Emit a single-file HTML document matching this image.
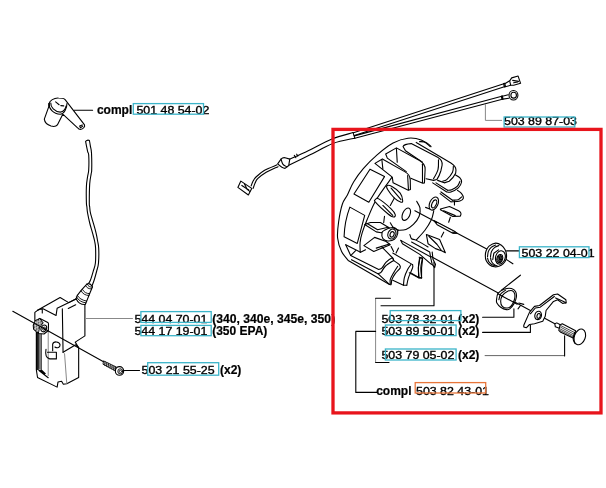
<!DOCTYPE html>
<html><head><meta charset="utf-8">
<style>
html,body{margin:0;padding:0;background:#fff;}
body{width:606px;height:488px;overflow:hidden;position:relative;font-family:"Liberation Sans",sans-serif;}
svg{position:absolute;left:0;top:0;will-change:transform;}
text{font-family:"Liberation Sans",sans-serif;font-size:11.7px;fill:#000;stroke:#000;stroke-width:0.35;}
.b{font-weight:bold;font-size:12px;stroke-width:0.2;}

.art *{vector-effect:non-scaling-stroke;}
.k{fill:none;stroke:#000;stroke-width:1.1;stroke-linecap:round;stroke-linejoin:round;}
.kf{fill:#fff;stroke:#000;stroke-width:1.1;stroke-linecap:round;stroke-linejoin:round;}
.f{fill:#fff;stroke:none;}
.kd{fill:#333;stroke:#111;stroke-width:1;}
.g{fill:none;stroke:#888;stroke-width:1;}
.cy{fill:none;stroke:#3bb4c9;stroke-width:1.3;}
.or{fill:none;stroke:#e8763a;stroke-width:1.3;}
</style></head><body>
<svg width="606" height="488" viewBox="0 0 606 488">
<!-- ART-START -->
<!-- spark plug boot: origin (36,92) scale 70/606 -->
<g transform="translate(36,92) scale(0.115512)" class="art">
<path d="M113,100 C118,75 155,50 195,52 C225,52 245,58 252,66 L420,285 C426,300 408,322 385,325 C375,325 365,318 360,310 L232,192 L185,285 C175,298 150,300 130,295 C100,285 75,260 72,235 L113,120 Z" class="kf"/>
<path d="M113,100 C108,140 150,190 210,192 C245,190 268,140 268,100" class="k"/>
<path d="M128,95 C125,130 160,172 210,174 C240,172 258,140 260,122" class="k"/>
<path d="M113,100 L113,122" class="k"/>
<path d="M170,85 L200,110 M215,118 L240,120" class="k"/>
<path d="M378,295 L400,285 M385,310 L405,295 M378,295 L385,310" class="k"/>
<path d="M330,158 H490" class="k"/>
</g>
<!-- HT wire -->
<path class="kf" d="M85.6,141.4 C85.9,143.1 87.1,149.1 87.6,151.4 C88.1,153.7 88.5,151.9 88.7,155 C88.9,158.1 88.9,166.4 88.7,170 C88.5,173.6 88.0,173.9 87.6,176.6 C87.2,179.3 86.6,182.0 86.4,186.4 C86.2,190.8 86.3,199.4 86.4,202.8 C86.5,206.2 86.7,205.3 86.9,207 C87.1,208.7 87.1,210.5 87.6,213.2 C88.1,215.9 88.9,219.7 89.7,223 C90.5,226.3 91.7,229.9 92.5,232.9 C93.3,235.9 94.1,238.4 94.6,241 C95.1,243.6 95.5,244.5 95.6,248.2 C95.7,251.9 95.8,259.1 95.4,263 C95.0,266.9 94.0,268.5 93.2,271.3 C92.4,274.1 91.3,277.9 90.5,280 C89.7,282.1 88.6,283.3 88.2,284 L92,285.9 C92.4,284.9 93.4,282.5 94.2,280 C95.0,277.5 96.0,273.8 96.7,271 C97.4,268.2 98.2,266.8 98.5,263 C98.8,259.2 98.9,251.9 98.7,248.2 C98.5,244.5 98.0,243.4 97.6,241 C97.2,238.6 96.8,236.4 96.2,233.7 C95.6,231.0 94.8,228.1 93.8,224.7 C92.8,221.3 91.2,216.1 90.5,213.2 C89.8,210.2 89.9,208.7 89.7,207 C89.5,205.3 89.3,206.7 89.3,202.8 C89.3,199.0 89.4,188.7 89.7,183.9 C90.0,179.1 90.8,176.4 91.1,174.1 C91.4,171.8 91.6,173.5 91.7,170 C91.8,166.5 91.7,157.1 91.5,153 C91.3,148.9 90.6,147.8 90.3,145.7 C90.0,143.6 89.6,141.4 89.4,140.5 Q87.5,139.3 85.6,141.4Z"/>
<!-- coil module upper: origin (20,275) scale 90/606 -->
<g transform="translate(20,275) scale(0.148515)" class="art">
<path class="kf" d="M100,252 L118,238 L270,152 L328,186 L378,160 L437,195 V410 L372,452 L395,490 V690 L315,732 L292,736 L280,715 L256,720 L250,755 L118,690 L110,638 L110,385 L100,335 Z"/>
<path class="k" d="M118,238 L150,226 V256"/>
<path class="k" d="M155,228 L243,272 L250,224 L378,162"/>
<path class="k" d="M285,228 L290,520"/><path class="g" d="M290,520 L300,530 L315,732"/>
<path class="k" d="M325,225 L375,200"/>
<path class="k" d="M290,520 L375,470 L395,488"/>
<path class="k" d="M114,385 V636" style="stroke-width:1.6"/>
<path class="k" d="M122,385 V630" style="stroke-width:1.4"/><path class="k" d="M134,385 V632 M143,388 V636" style="stroke-width:0.9"/>
<path class="k" d="M120,635 L185,688 M130,645 L190,692 M135,640 L165,670 M145,640 L170,665"/>
<path class="g" d="M190,360 V680"/>
<path class="k" d="M175,500 C170,530 175,560 200,565 L245,565 V520 L185,520"/>
<path class="k" d="M220,510 V465 C225,445 265,445 270,470 C270,490 250,495 235,485"/>
<!-- connector -->
<!-- bushing -->
</g>
<g>
<path class="kf" d="M35.4,320.7 L39.9,318.4 L47.8,322.4 Q48.6,323 48.5,324.5 L48.3,330.5 L44,334 L38.5,333.5 L35.4,330 Z"/>
<path d="M35.4,320.7 L39.9,318.7 L43.2,322.9 L39.6,327.2 L38.4,333 L33.6,329.5 L33.2,325 Z" fill="#6a6a6a" stroke="#000" stroke-width="1"/>
<path d="M35,323 L41,320.5 M34,326 L42,322.5 M34,329 L40.5,325.5 M36,331.5 L39.5,329" stroke="#fff" stroke-width="0.5" fill="none"/>
<path d="M37,319.5 L38,332 M39.5,319 L40,327 M35.2,321 L35.6,330" stroke="#fff" stroke-width="0.5" fill="none"/>
<ellipse class="kf" cx="43.8" cy="328.4" rx="2.6" ry="3.5" transform="rotate(25 43.8 328.4)"/>
<ellipse class="k" cx="44" cy="328.6" rx="1.1" ry="1.7" transform="rotate(25 44 328.6)" style="stroke-width:0.8"/>
</g>
<g transform="translate(20,275) scale(0.148515)" class="art">
<path class="g" d="M440,293 H760"/>
</g>
<g>
<path class="kf" d="M76.1,298.7 L77.3,295.3 L81.8,289.6 L87.1,283.9 Q90,282.6 92.5,286.7 L89.6,293.7 L86.7,301.1 L85.2,304.5 Q79,304.8 76.1,298.7 Z"/>
<path class="k" d="M87.1,284 Q88.5,287.6 92.5,287.1 M85.6,285.6 Q87.2,289.2 91.7,288.9" style="stroke-width:0.9"/>
<path class="k" d="M82.6,289.6 Q84.5,293.6 89.6,293.7 M81.2,291 Q83.4,295.4 88.9,295.5" style="stroke-width:0.9"/>
<path class="k" d="M77.3,295.3 Q79.8,300 86.7,301.1 M76.6,297 Q79,302 86,302.9" style="stroke-width:0.9"/>
</g>
<!-- diagonal axis line -->
<path class="k" d="M12.8,311.3 L104,362"/>
<!-- screw: origin (90,345) scale 60/606 -->
<g transform="translate(90,345) scale(0.09901)" class="art">
<path class="kf" d="M140,162 L275,228 L262,264 L135,196 Z" style="stroke-width:0.9"/>
<path class="k" d="M152,168 L148,203 M170,177 L166,213 M188,186 L184,222 M206,195 L202,232 M224,204 L220,241 M242,213 L238,251 M258,221 L254,259" style="stroke-width:1.1;stroke:#222"/>
<path class="k" d="M138,180 L268,246" style="stroke-width:0.8;stroke:#555"/>
<ellipse class="kf" cx="298" cy="262" rx="42" ry="44"/>
<ellipse class="k" cx="306" cy="266" rx="25" ry="26" style="stroke-width:0.9"/>
<path class="k" d="M296,262 L305,254 L317,259 L319,271 L309,279 L298,274 Z" style="stroke-width:0.8"/>
<path class="k" d="M345,258 H500"/>
</g>
<g transform="translate(0,0) scale(1.00000)" class="art">
<path class="k" d="M289.4,159.3 C292.5,157.9 301.1,154.2 308.2,150.8 C315.3,147.4 324.4,141.9 331.9,138.9 C339.4,135.9 349.6,133.7 353.1,132.6"/>
<path class="k" d="M288.8,165.2 C292.4,163.5 302.8,158.4 310.1,154.8 C317.5,151.2 325.4,146.3 332.9,143.5 C340.3,140.7 351.1,139.1 354.8,138.2"/>
<path class="k" d="M353.1,132.6 L354.8,138.2"/>
<path class="k" d="M353.5,132.8 L503.8,83.8"/>
<path class="k" d="M354.3,135.6 L504.3,86.8"/>
<path class="k" d="M354.3,135.9 L501.8,96.2"/>
<path class="k" d="M354.8,138.2 L502.3,99.2"/>
<path class="g" d="M485.4,104.1 L485.4,120.4 L502,120.4"/>
</g>
<g transform="translate(225,130) scale(0.19802)" class="art">
<path class="kf" d="M80,258 L65,290 L118,328 L135,295Z"/>
<path class="k" d="M85,280 L120,303"/>
<path class="k" d="M98,272 L108,292"/>
<path class="k" d="M112,300 L125,310"/>
<path class="k" d="M132,282 C133.7,278.0 137.7,265.7 142,258 C146.3,250.3 148.3,245.1 158,236 C167.7,226.9 182.6,213.5 200,203.5 C217.4,193.5 252.2,180.6 262.6,176"/>
<path class="k" d="M142,295 C143.7,290.5 148.2,276.2 152,268 C155.8,259.8 155.7,255.1 165,246 C174.3,236.9 190.9,223.8 208,213.6 C225.1,203.4 257.8,189.8 267.7,185"/>
<path class="kf" d="M266,171 L283,147 Q293,136 308,141 L327,147 L322,179 L303,194 Q290,193 266,171Z"/>
<path class="k" d="M283,147 C284.5,151.2 287.2,165.5 292,172 C296.8,178.5 308.7,183.7 312,186"/>
<path class="k" d="M350,128 L358,140"/>
<path class="k" d="M362,122 L368,132"/>
</g>
<g transform="translate(480,65) scale(0.09901)" class="art">
<path class="kf" d="M238,188 L250,185 L258,218 L246,222Z"/>
<path class="k" d="M250,190 L300,160"/>
<path class="k" d="M256,220 L310,205"/>
<path class="kf" d="M300,160 L320,130 L385,112 L410,185 L340,205 L310,205Z"/>
<path class="k" d="M330,155 L390,165"/>
<path class="k" d="M340,180 L380,172"/>
<path class="kf" d="M215,315 L226,312 L232,345 L222,348Z"/>
<path class="k" d="M226,315 L285,300"/>
<path class="k" d="M230,345 L292,335"/>
<ellipse class="kf" cx="338" cy="305" rx="45" ry="48" transform="rotate(0 338 305)"/>
<ellipse class="k" cx="340" cy="305" rx="28" ry="30" transform="rotate(0 340 305)"/>
</g>
<g transform="translate(0,0) scale(1.00000)" class="art">
<path class="k" d="M414.9,210.7 L489.1,250.3"/>
<path class="k" d="M505.5,258.9 L512.9,263.8"/>
<path class="k" d="M431,256.5 L557.6,325.3"/>
<path class="k" d="M501.4,290.2 L520.4,275.2"/>
</g>
<g transform="translate(0,0) scale(1.00000)" class="art">
<path class="k" d="M430.2,146.6 C428.7,145.5 424.9,141.4 421.2,140 C417.5,138.6 412.7,137.7 408,138.2 C403.3,138.7 398.2,140.2 393.1,143 C388.0,145.8 382.0,150.6 377.1,154.8 C372.2,159.0 367.4,163.9 363.5,168.4 C359.6,172.9 356.3,177.6 353.6,182 C350.9,186.4 349.3,191.3 347.4,195 C345.5,198.7 343.9,199.5 342.4,204 C340.9,208.5 339.4,216.3 338.6,222 C337.8,227.7 337.1,233.1 337.6,238 C338.1,242.9 339.8,247.7 341.6,251.4 C343.4,255.2 347.1,259.0 348.2,260.5 L389.5,284.4"/>
</g>
<g transform="translate(370,135) scale(0.16502)" class="art">
<path class="k" d="M530,335 C534.2,338.3 549.0,347.2 555,355 C561.0,362.8 567.7,374.5 566,382 C564.3,389.5 557.7,396.2 545,400 C532.3,403.8 499.2,404.2 490,405 L425,355"/>
<path class="k" d="M430,345 L500,395"/>
<path class="k" d="M500,395 C505.8,394.5 525.7,395.3 535,392 C544.3,388.7 552.5,377.8 556,375"/>
<path class="k" d="M515,240 C520.0,243.3 538.3,252.5 545,260 C551.7,267.5 556.7,275.0 555,285 C553.3,295.0 545.8,310.0 535,320 C524.2,330.0 501.7,340.8 490,345 C478.3,349.2 469.2,345.0 465,345 L380,290"/>
<path class="k" d="M400,290 L470,335"/>
<path class="k" d="M470,335 C474.2,334.5 485.0,336.2 495,332 C505.0,327.8 521.7,318.7 530,310 C538.3,301.3 542.5,285.0 545,280"/>
<path class="f" d="M280,45 L495,172 Q522,188 521,210 L520,230 Q505,260 480,280 L450,290 L410,275 L300,200 Z"/>
<path class="k" d="M280,45 L490,170 Q520,188 521,212 L519,232 Q505,262 480,280 L450,290 L410,275"/>
<path class="k" d="M300,40 C306.7,40.8 328.3,40.0 340,45 C351.7,50.0 365.0,65.8 370,70"/>
<path class="k" d="M505,190 C504.2,195.8 506.7,211.7 500,225 C493.3,238.3 475.0,260.8 465,270 C455.0,279.2 444.2,278.3 440,280"/>
<path class="f" d="M200,70 L215,55 L250,52 L415,138 Q440,152 437,180 L430,215 Q420,250 405,270 L385,275 L340,265 L318,165 L215,95 Z"/>
<path class="k" d="M318,165 L215,95 L200,70 Q205,55 250,52 L410,135 Q440,152 437,182 L430,215 Q420,250 405,270 L385,275 L340,265"/>
<path class="k" d="M415,150 C414.5,160.0 417.0,190.8 412,210 C407.0,229.2 389.5,255.8 385,265"/>
<path class="f" d="M95,115 L160,78 L305,158 Q335,175 334,205 L330,290 L320,292 L247,262 L220,222 L105,140 Z"/>
<path class="k" d="M220,222 L105,140 L95,115 L160,78 L300,155 Q335,175 334,208 L330,290 L320,292 L247,262"/>
<path class="k" d="M160,80 L165,165"/>
<path class="k" d="M318,178 L318,288"/>
<path class="kf" d="M30,172 L75,145 L210,222 Q243,240 244,272 L245,330 L232,335 L140,290 L135,255 Z"/>
<path class="k" d="M72,150 L78,205"/>
<path class="k" d="M228,245 L233,332"/>
</g>
<g transform="translate(335,170) scale(0.16502)" class="art">
<path class="k" d="M212,-5 L300,40 L205,195 L115,145Z"/>
<path class="k" d="M90,225 L180,275 L135,445 L55,405 Q58,310 90,225Z"/>
<path class="k" d="M345,45 C329.2,67.5 275.0,137.5 250,180 C225.0,222.5 209.2,266.7 195,300 C180.8,333.3 172.2,356.7 165,380 C157.8,403.3 154.0,420.0 152,440 C150.0,460.0 152.8,490.0 153,500"/>
<path class="kf" d="M315,95 C319.2,91.7 331.7,92.5 345,100 C358.3,107.5 384.2,125.8 395,140 C405.8,154.2 409.2,175.8 410,185 C410.8,194.2 408.3,197.5 400,195 C391.7,192.5 373.3,182.5 360,170 C346.7,157.5 327.5,132.5 320,120 C312.5,107.5 310.8,98.3 315,95Z"/>
<path class="k" d="M340,110 L400,180"/>
<path class="k" d="M360,170 L335,215"/>
<path class="kf" d="M245,180 C248.3,176.7 249.2,165.8 265,175 C280.8,184.2 323.3,219.2 340,235 C356.7,250.8 362.5,261.7 365,270 C367.5,278.3 362.5,285.8 355,285 C347.5,284.2 338.3,280.0 320,265 C301.7,250.0 257.5,209.2 245,195 C232.5,180.8 241.7,183.3 245,180Z"/>
<path class="k" d="M290,215 L350,275"/>
<path class="k" d="M300,280 L295,320"/>
<path class="kf" d="M180,330 L215,318 L275,318 L335,355 L280,380 L250,375Z"/>
<path class="k" d="M192,323 L258,362 L322,347"/>
<path class="kf" d="M285,380 C283.3,388.3 284.2,406.7 290,415 C295.8,423.3 308.3,429.2 320,430 C331.7,430.8 350.0,427.5 360,420 C370.0,412.5 378.3,395.8 380,385 C381.7,374.2 376.7,360.8 370,355 C363.3,349.2 351.7,348.3 340,350 C328.3,351.7 309.2,360.0 300,365 C290.8,370.0 286.7,371.7 285,380Z"/>
<ellipse class="k" cx="345" cy="388" rx="24" ry="31" transform="rotate(20 345 388)"/>
<ellipse class="k" cx="346" cy="390" rx="12" ry="17" transform="rotate(20 346 390)"/>
<ellipse class="k" cx="432" cy="268" rx="22" ry="40" transform="rotate(25 432 268)"/>
<path class="k" d="M495,190 C498.3,196.7 512.5,215.0 515,230 C517.5,245.0 516.7,263.3 510,280 C503.3,296.7 488.3,316.7 475,330 C461.7,343.3 445.0,354.2 430,360 C415.0,365.8 392.5,364.2 385,365"/>
<path class="k" d="M335,320 C338.3,325.0 346.7,342.5 355,350 C363.3,357.5 380.0,362.5 385,365"/>
</g>
<g transform="translate(400,195) scale(0.16502)" class="art">
<ellipse class="kf" cx="205" cy="52" rx="25" ry="42" transform="rotate(25 205 52)"/>
<ellipse class="k" cx="207" cy="54" rx="13" ry="26" transform="rotate(25 207 54)"/>
<path class="k" d="M155,75 L180,85"/>
<path class="k" d="M205,95 C202.5,104.2 199.2,130.0 190,150 C180.8,170.0 165.0,195.0 150,215 C135.0,235.0 108.3,260.8 100,270"/>
<path class="kf" d="M245,85 L300,70 L355,95 Q378,108 365,128 L320,130 L245,90Z"/>
<path class="k" d="M265,95 L335,125"/>
<path class="k" d="M305,135 L295,165"/>
<path class="k" d="M330,35 L330,60"/>
<path class="kf" d="M205,155 L330,220 L345,232 L320,232 L225,180Z"/>
<path class="kd" d="M318,224 L345,232 L322,232Z"/>
<path class="k" d="M265,225 L250,255"/>
<path class="kf" d="M160,240 L240,270 L275,350 L255,340 L215,325 L170,295Z"/>
<path class="k" d="M175,250 L225,300 L250,335"/>
<path class="k" d="M5,275 L185,375 L180,345 L70,285"/>
<path class="k" d="M5,275 L15,295 L120,360 L190,420"/>
<path class="k" d="M185,375 L195,420 L210,440 L215,420 L200,390 L195,345"/>
<path class="k" d="M60,240 C61.7,244.2 63.3,259.2 70,265 C76.7,270.8 83.3,266.7 100,275 C116.7,283.3 158.3,308.3 170,315"/>
</g>
<g transform="translate(400,240) scale(0.12376)" class="art">
<path class="kf" d="M158,144 Q144,216 150,304 L174,308 Q170,224 183,150 Z"/>
<path class="k" d="M75,265 L150,305"/>
</g>
<g transform="translate(335,225) scale(0.16502)" class="art">
<path class="k" d="M65,120 L155,165 L185,150"/>
<path class="k" d="M65,120 L95,185 L125,155"/>
<path class="kf" d="M175,125 L240,75 L310,100 L335,120 L260,150 L235,160Z"/>
<path class="k" d="M250,140 L330,115"/>
<path class="k" d="M95,185 L265,270 L265,270 C268.3,268.3 277.5,267.5 285,260 C292.5,252.5 300.0,235.0 310,225 C320.0,215.0 337.5,202.5 345,200 C352.5,197.5 353.3,208.3 355,210"/>
<path class="k" d="M100,210 L260,295 L260,295 C263.3,293.3 272.5,292.5 280,285 C287.5,277.5 292.5,261.7 305,250 C317.5,238.3 346.7,220.8 355,215"/>
<path class="k" d="M260,295 L330,360"/>
<path class="k" d="M280,130 L350,200 L355,215"/>
<path class="k" d="M355,215 C360.8,219.2 383.3,232.5 390,240 C396.7,247.5 399.2,250.8 395,260 C390.8,269.2 373.3,283.3 365,295 C356.7,306.7 349.2,319.2 345,330 C340.8,340.8 342.5,355.0 340,360 C337.5,365.0 331.7,360.0 330,360"/>
<path class="k" d="M380,250 C375.8,256.7 362.5,276.7 355,290 C347.5,303.3 338.3,319.2 335,330 C331.7,340.8 335.0,350.8 335,355"/>
<path class="k" d="M350,335 L415,365 L435,365"/>
<path class="k" d="M435,365 C436.7,357.5 439.2,337.5 445,320 C450.8,302.5 465.8,273.3 470,260 C474.2,246.7 470.0,243.3 470,240"/>
<path class="k" d="M415,365 C415.8,357.5 415.8,335.8 420,320 C424.2,304.2 433.3,283.3 440,270 C446.7,256.7 456.7,245.0 460,240"/>
<path class="k" d="M350,170 L470,240"/>
<path class="k" d="M460,290 L510,320 L525,320"/>
<path class="k" d="M525,320 C524.2,310.0 519.2,280.0 520,260 C520.8,240.0 528.3,210.0 530,200"/>
<path class="k" d="M530,200 L510,195"/>
<path class="k" d="M510,320 C509.2,310.0 504.2,280.0 505,260 C505.8,240.0 513.3,210.0 515,200"/>
<path class="k" d="M340,130 L355,160"/>
<path class="k" d="M385,140 L370,170"/>
</g>
<g transform="translate(475,235) scale(0.08251)" class="art">
<path class="kf" d="M125,250 C125.0,230.0 127.5,209.2 135,190 C142.5,170.8 150.8,150.3 170,135 C189.2,119.7 225.0,99.7 250,98 C275.0,96.3 300.8,111.3 320,125 C339.2,138.7 354.7,160.8 365,180 C375.3,199.2 380.3,220.0 382,240 C383.7,260.0 382.0,281.7 375,300 C368.0,318.3 354.2,337.0 340,350 C325.8,363.0 307.5,372.2 290,378 C272.5,383.8 254.2,388.0 235,385 C215.8,382.0 191.7,372.5 175,360 C158.3,347.5 143.3,328.3 135,310 C126.7,291.7 125.0,270.0 125,250Z"/>
<path class="k" d="M152,262 C153.7,251.3 154.7,216.7 162,198 C169.3,179.3 181.7,162.7 196,150 C210.3,137.3 239.3,126.7 248,122"/>
<path class="k" d="M152,280 C154.7,287.5 159.7,312.0 168,325 C176.3,338.0 190.0,350.2 202,358 C214.0,365.8 233.7,369.7 240,372"/>
<path class="k" d="M188,262 C190.0,251.7 191.3,218.7 200,200 C208.7,181.3 225.0,162.0 240,150 C255.0,138.0 281.7,131.7 290,128"/>
<path class="k" d="M188,275 C190.0,282.5 192.2,305.8 200,320 C207.8,334.2 223.3,350.8 235,360 C246.7,369.2 264.2,372.5 270,375"/>
<path class="k" d="M215,300 L228,222 L285,180"/>
<ellipse class="k" cx="308" cy="272" rx="58" ry="82" transform="rotate(15 308 272)"/>
<ellipse class="k" cx="300" cy="285" rx="34" ry="50" transform="rotate(15 300 285)"/>
<path d="M285,250 L300,240 L322,255 L325,290 L310,320 L290,325 L275,300 Z" fill="#777" stroke="#000" stroke-width="1"/>
<path class="k" d="M290,262 L310,300"/>
<path class="k" d="M305,258 L295,305"/>
<path class="k" d="M382,193 L535,193"/>
</g>
<g transform="translate(470,230) scale(0.16502)" class="art">

</g>
<g transform="translate(485,275) scale(0.16502)" class="art">
<path class="kf" d="M70,150 C71.3,140.0 71.7,120.8 80,110 C88.3,99.2 106.7,89.7 120,85 C133.3,80.3 149.2,79.5 160,82 C170.8,84.5 180.0,91.2 185,100 C190.0,108.8 191.7,122.5 190,135 C188.3,147.5 181.7,163.3 175,175 C168.3,186.7 157.5,199.2 150,205 C142.5,210.8 139.2,211.7 130,210 C120.8,208.3 104.7,201.7 95,195 C85.3,188.3 76.2,177.5 72,170 C67.8,162.5 68.7,160.0 70,150Z"/>
<path class="k" d="M95,160 C95.0,149.2 98.3,135.0 105,125 C111.7,115.0 125.0,105.0 135,100 C145.0,95.0 157.5,92.5 165,95 C172.5,97.5 177.8,105.8 180,115 C182.2,124.2 181.3,138.3 178,150 C174.7,161.7 167.2,176.7 160,185 C152.8,193.3 144.2,199.2 135,200 C125.8,200.8 111.7,196.7 105,190 C98.3,183.3 95.0,170.8 95,160Z"/>
<path class="k" d="M84,150 C85.8,144.2 88.2,124.7 95,115 C101.8,105.3 120.0,95.8 125,92"/>
<path class="k" d="M78,113 L195,177"/>
<path class="k" d="M205,170 L235,178"/>
<path class="k" d="M200,205 L215,185"/>
<path class="kf" d="M235,305 L270,225 L300,190 L330,185 L415,120 L440,115 L490,150 L492,168 L470,172 L440,150 L415,160 L370,215 L365,250 L350,280 L300,295 L270,300 L250,320 L235,315Z"/>
<path class="k" d="M275,235 L305,200 L335,195 L420,130"/>
<path class="k" d="M428,139 L476,160 L490,170"/>
<ellipse class="k" cx="322" cy="245" rx="20" ry="26" transform="rotate(15 322 245)"/>
<ellipse class="k" cx="325" cy="248" rx="10" ry="15" transform="rotate(15 325 248)"/>
</g>
<g transform="translate(540,310) scale(0.09901)" class="art">
<path class="kf" d="M150,140 L170,130 L205,150 L195,185 L155,170Z"/>
<path class="kf" d="M205,150 L225,140 L360,210 L340,285 L210,225 L190,205 L195,185Z"/>
<path class="k" style="stroke-width:0.7" d="M215,160 L350,228 M210,175 L345,245 M205,192 L343,262 M205,208 L340,275"/>
<ellipse class="kf" cx="402" cy="272" rx="55" ry="82" transform="rotate(20 402 272)"/>
<path class="k" d="M350,225 C347.5,235.8 335.0,271.7 335,290 C335.0,308.3 347.5,327.5 350,335"/>
</g>

<!-- ART-END -->
<!-- leader lines -->
<g id="leaders">
<path class="g" d="M375.6 298.2V362.5"/>
<path class="k" d="M375.6 298.2H390.4"/>
<path class="k" d="M375.6 362.5H389"/>
<path class="k" d="M375.6 331.4H355.8V392.4H377"/>
<path class="k" d="M381 305.8H434V262"/>
<path class="k" d="M482.6 317.3H513.9V308.8"/>
<path class="k" d="M482.6 332.4H530.4V325.3"/>
<path class="g" d="M484.7 355.6H564.6" style="stroke:#666"/><path class="k" d="M564.6 356V335.7"/>
</g>
<!-- labels -->
<g id="labels">
<text x="96.9" y="113.6" class="b">compl</text>
<text x="136.4" y="113.6" textLength="73" lengthAdjust="spacingAndGlyphs">501 48 54-02</text>
<rect class="cy" x="133.3" y="103.6" width="70.2" height="10.6"/>

<text x="504" y="124.5" textLength="73" lengthAdjust="spacingAndGlyphs">503 89 87-03</text>
<rect class="cy" x="504.1" y="117" width="70.7" height="10"/>

<text x="521.6" y="256.5" textLength="73" lengthAdjust="spacingAndGlyphs">503 22 04-01</text>
<rect class="cy" x="519.4" y="246.8" width="69.6" height="10.8"/>

<text x="134.4" y="322.8" textLength="73" lengthAdjust="spacingAndGlyphs">544 04 70-01</text>
<text x="212.2" y="322.8" class="b" textLength="123" lengthAdjust="spacingAndGlyphs">(340, 340e, 345e, 350)</text>
<rect class="cy" x="140.9" y="311.6" width="70.3" height="10.8"/>
<text x="134.4" y="334.8" textLength="73" lengthAdjust="spacingAndGlyphs">544 17 19-01</text>
<text x="212.2" y="334.8" class="b">(350 EPA)</text>
<rect class="cy" x="140.9" y="325.4" width="70.3" height="10.3"/>

<text x="141.6" y="374" textLength="73" lengthAdjust="spacingAndGlyphs">503 21 55-25</text>
<text x="220" y="374" class="b">(x2)</text>
<rect class="cy" x="147.7" y="362.7" width="71" height="12.5"/>

<text x="381.4" y="322.5" textLength="73" lengthAdjust="spacingAndGlyphs">503 78 32-01</text>
<text x="458" y="322.5" class="b">(x2)</text>
<rect class="cy" x="390.2" y="310.6" width="70.7" height="10"/>
<text x="381.4" y="335.3" textLength="73" lengthAdjust="spacingAndGlyphs">503 89 50-01</text>
<text x="458" y="335.3" class="b">(x2)</text>
<rect class="cy" x="385.4" y="325" width="70.7" height="10.6"/>
<text x="381.4" y="359.4" textLength="73" lengthAdjust="spacingAndGlyphs">503 79 05-02</text>
<text x="458" y="359.4" class="b">(x2)</text>
<rect class="cy" x="385.4" y="349" width="70.7" height="11"/>

<text x="376.2" y="394.5" class="b">compl</text>
<text x="416" y="394.5" textLength="73" lengthAdjust="spacingAndGlyphs">503 82 43-01</text>
<rect class="or" x="415.2" y="382.6" width="70.5" height="10.4"/>
</g>
<!-- red selection -->
<rect x="333" y="129.4" width="268" height="283.5" fill="none" stroke="#e8141c" stroke-width="3.3"/>
</svg>
</body></html>
